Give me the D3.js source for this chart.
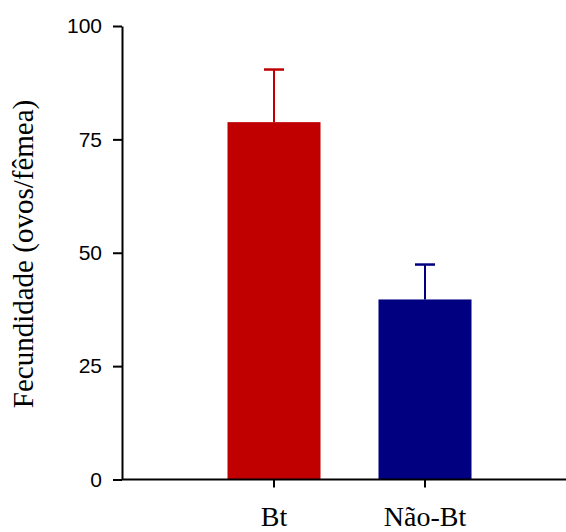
<!DOCTYPE html>
<html>
<head>
<meta charset="utf-8">
<script src="https://cdn.jsdelivr.net/npm/d3@7"></script>
<style>
  html, body { margin: 0; padding: 0; background: #fff; }
  svg { display: block; }
</style>
</head>
<body>
<script>
const categories = ["Bt", "Não-Bt"];
const means = [78.8, 39.7];
const errors = [11.6, 7.7];
const colors = ["#C00000", "#000080"];
const yTicks = [0, 25, 50, 75, 100];
const yLabel = "Fecundidade (ovos/fêmea)";

const W = 566, H = 532;
const svg = d3.select("body").append("svg").attr("width", W).attr("height", H);

const y = d3.scaleLinear().domain([0, 100]).range([479.5, 26]);
const x = d3.scaleBand().domain(categories).range([198.5, 500.5])
  .paddingInner(0.384).paddingOuter(0.192);
const axisX0 = 122, axisX1 = 566;

// bars
svg.selectAll("rect.bar").data(categories).enter().append("rect")
  .attr("class", "bar")
  .attr("x", d => x(d))
  .attr("width", x.bandwidth())
  .attr("y", (d, i) => y(means[i]))
  .attr("height", (d, i) => y(0) - y(means[i]))
  .attr("fill", (d, i) => colors[i]);

// error bars
const eb = svg.selectAll("g.err").data(categories).enter().append("g").attr("class", "err");
eb.append("line")
  .attr("x1", d => x(d) + x.bandwidth() / 2)
  .attr("x2", d => x(d) + x.bandwidth() / 2)
  .attr("y1", (d, i) => y(means[i]))
  .attr("y2", (d, i) => y(means[i] + errors[i]))
  .attr("stroke", (d, i) => colors[i]).attr("stroke-width", 2);
eb.append("line")
  .attr("x1", d => x(d) + x.bandwidth() / 2 - 10)
  .attr("x2", d => x(d) + x.bandwidth() / 2 + 10)
  .attr("y1", (d, i) => y(means[i] + errors[i]))
  .attr("y2", (d, i) => y(means[i] + errors[i]))
  .attr("stroke", (d, i) => colors[i]).attr("stroke-width", 2.5);

// y axis
const yAxis = d3.axisLeft(y).tickValues(yTicks).tickSize(9).tickPadding(11).tickSizeOuter(0);
const gy = svg.append("g").attr("transform", `translate(${axisX0},0)`).call(yAxis);
gy.select(".domain").attr("stroke", "#000").attr("stroke-width", 2);
gy.selectAll(".tick line").attr("stroke", "#000").attr("stroke-width", 2);
gy.selectAll(".tick text").attr("font-family", "'Liberation Sans', Arial, sans-serif")
  .attr("font-size", 21).attr("fill", "#000");

// x axis
const xAxis = d3.axisBottom(x).tickSize(8).tickSizeOuter(0).tickPadding(22);
const gx = svg.append("g").attr("transform", `translate(0,${y(0)})`).call(xAxis);
gx.select(".domain").attr("d", `M${axisX0},0H${axisX1}`).attr("stroke", "#000").attr("stroke-width", 2);
gx.selectAll(".tick line").attr("stroke", "#000").attr("stroke-width", 2);
gx.selectAll(".tick text").attr("font-family", "'Liberation Serif', 'Times New Roman', serif")
  .attr("font-size", 28).attr("fill", "#000").attr("dy", null)
  .attr("y", 46);

// y label
svg.append("text")
  .attr("transform", "translate(33,254) rotate(-90)")
  .attr("text-anchor", "middle")
  .attr("font-family", "'Liberation Serif', 'Times New Roman', serif")
  .attr("font-size", 29)
  .attr("fill", "#000")
  .text(yLabel);
</script>
</body>
</html>
